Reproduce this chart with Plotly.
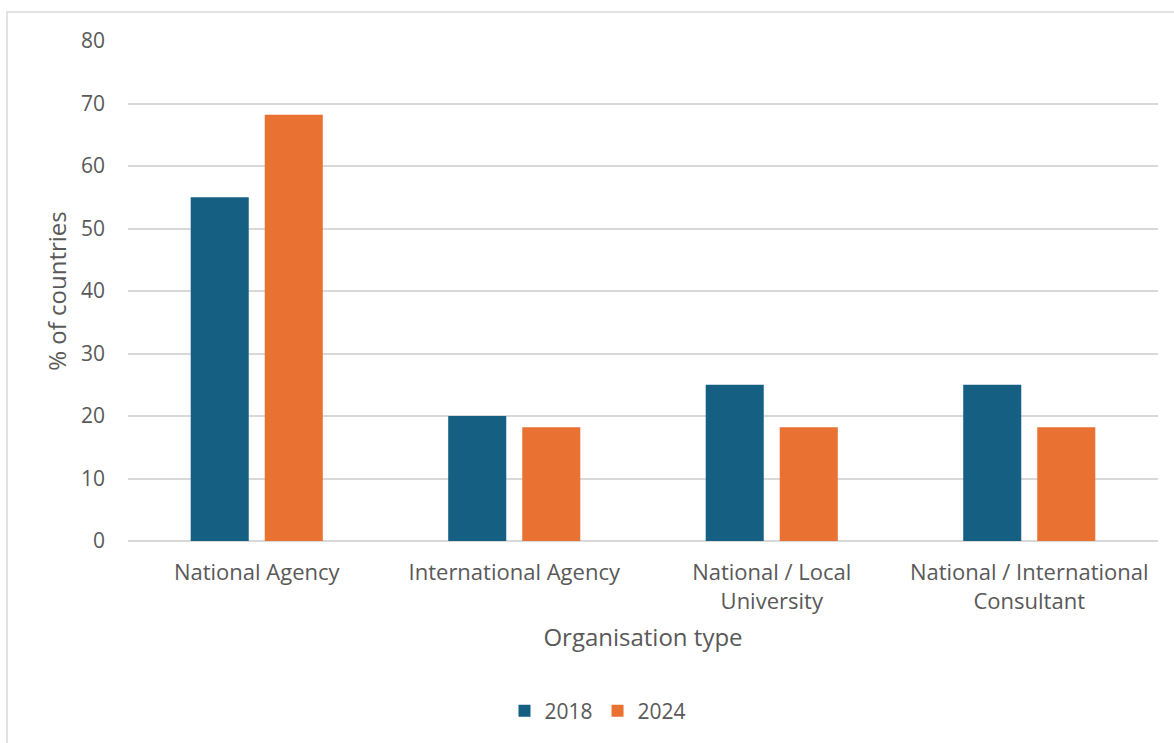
import plotly.graph_objects as go

categories = ["National Agency", "International Agency",
              "National / Local<br>University", "National / International<br>Consultant"]
values_2018 = [55, 20, 25, 25]
values_2024 = [68.2, 18.2, 18.2, 18.2]
y_ticks = [0, 10, 20, 30, 40, 50, 60, 70, 80]

BLUE = "#156082"
ORANGE = "#E97132"
TEXT = "#595959"
GRID = "#D9D9D9"
FONT = "Open Sans"

fig = go.Figure()
fig.add_trace(go.Bar(name="2018", x=categories, y=values_2018, marker_color=BLUE,
                     marker_line_width=0))
fig.add_trace(go.Bar(name="2024", x=categories, y=values_2024, marker_color=ORANGE,
                     marker_line_width=0))

W, H = 1174, 743
L, R, T, B = 128, 16, 41, 202
pw, ph = W - L - R, H - T - B

fig.update_layout(
    width=W, height=H,
    margin=dict(l=L, r=R, t=T, b=B, pad=0),
    paper_bgcolor="white", plot_bgcolor="white",
    barmode="group", bargap=0.425, bargroupgap=0.216,
    font=dict(family=FONT, color=TEXT, size=21),
    showlegend=True,
    legend=dict(orientation="h", x=(598 - L) / pw, xanchor="center",
                y=(H - B - 711) / ph, yanchor="middle",
                font=dict(size=21, color=TEXT), itemwidth=30,
                traceorder="normal"),
    xaxis=dict(showgrid=False, showline=False, ticks="", ticklabelstandoff=16,
               tickfont=dict(size=22, color=TEXT),
               title=dict(text="Organisation type", font=dict(size=24, color=TEXT),
                          standoff=15)),
    yaxis=dict(range=[0, 80], tickvals=y_ticks, showgrid=True, gridcolor=GRID,
               gridwidth=1.5, zeroline=True, zerolinecolor=GRID, zerolinewidth=1.5,
               showline=False, ticks="", ticklabelstandoff=22,
               tickfont=dict(size=21, color=TEXT),
               title=dict(text="% of countries", font=dict(size=24, color=TEXT),
                          standoff=7)),
)

# chart-area frame
fig.add_shape(type="rect", xref="paper", yref="paper",
              x0=(7 - L) / pw, x1=(W + 20 - L) / pw,
              y0=(H - B - (H + 20)) / ph, y1=(H - B - 12) / ph,
              line=dict(color=GRID, width=1.5), fillcolor="rgba(0,0,0,0)",
              layer="below")

fig.write_html("out.html")
